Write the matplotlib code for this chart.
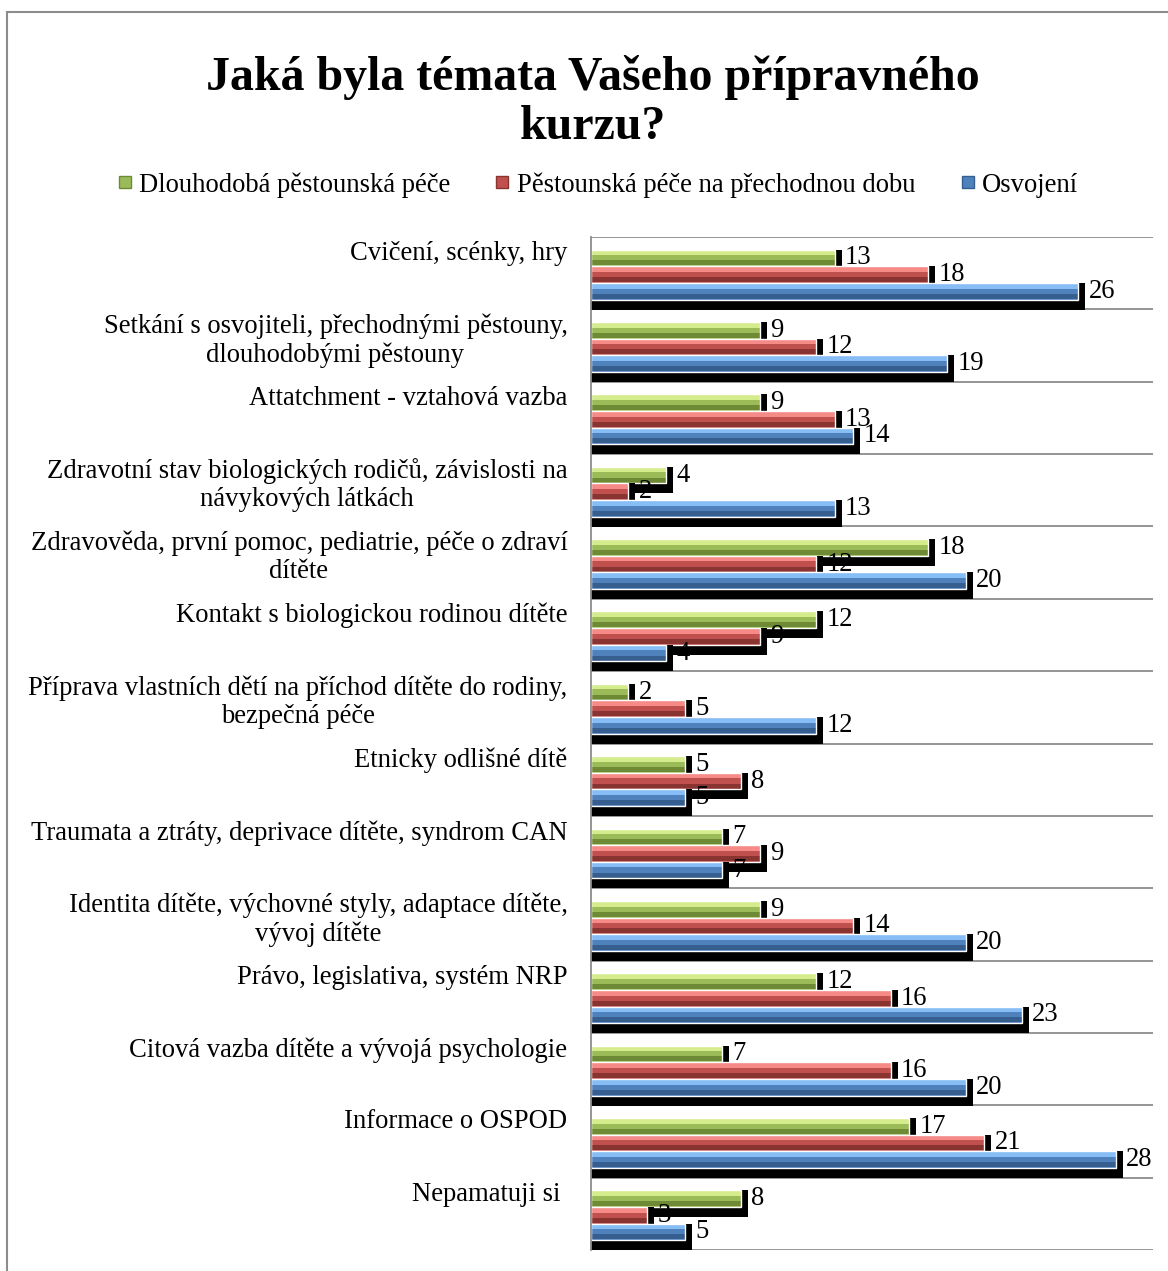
import matplotlib
matplotlib.use("Agg")
import matplotlib.pyplot as plt
from matplotlib.patches import Rectangle
from matplotlib.lines import Line2D

plt.rcParams["font.family"] = ["Liberation Serif", "DejaVu Serif"]

categories = [
    "Cvičení, scénky, hry",
    "Setkání s osvojiteli, přechodnými pěstouny,\ndlouhodobými pěstouny",
    "Attatchment - vztahová vazba",
    "Zdravotní stav biologických rodičů, závislosti na\nnávykových látkách",
    "Zdravověda, první pomoc, pediatrie, péče o zdraví\ndítěte",
    "Kontakt s biologickou rodinou dítěte",
    "Příprava vlastních dětí na příchod dítěte do rodiny,\nbezpečná péče",
    "Etnicky odlišné dítě",
    "Traumata a ztráty, deprivace dítěte, syndrom CAN",
    "Identita dítěte, výchovné styly, adaptace dítěte,\nvývoj dítěte",
    "Právo, legislativa, systém NRP",
    "Citová vazba dítěte a vývojá psychologie",
    "Informace o OSPOD",
    "Nepamatuji si ",
]
dlouhodoba = [13, 9, 9, 4, 18, 12, 2, 5, 7, 9, 12, 7, 17, 8]
prechodna = [18, 12, 13, 2, 12, 9, 5, 8, 9, 14, 16, 16, 21, 3]
osvojeni = [26, 19, 14, 13, 20, 4, 12, 5, 7, 20, 23, 20, 28, 5]

series_names = ["Dlouhodobá pěstounská péče", "Pěstounská péče na přechodnou dobu", "Osvojení"]
# base, highlight, dark
palette = [
    ("#9BBB59", "#D4EC8C", "#6E8A34"),
    ("#C0504D", "#F58A86", "#8A3431"),
    ("#4F81BD", "#86BDF5", "#365E8F"),
]

FS = 19.2
fig = plt.figure(figsize=(11.68, 12.71), dpi=100)
ax = fig.add_axes([591 / 1168, 1 - 1250 / 1271, 562 / 1168, (1250 - 237) / 1271])

n = len(categories)
xmax = 30
px_x = xmax / 562          # data units per pixel, x
px_y = n / (1250 - 237)    # data units per pixel, y
bar_h = 0.23
offsets = [0.175 + bar_h / 2, 0.175 + 1.5 * bar_h, 0.175 + 2.5 * bar_h]

# band gridlines
for b in range(n + 1):
    ax.axhline(b, color="#8c8c8c", lw=1.3, zorder=1)

for k, vals in enumerate([dlouhodoba, prechodna, osvojeni]):
    base, hi, dark = palette[k]
    ys = [i + offsets[k] for i in range(n)]
    z = 3 + k
    # black drop shadow: a bit wider and reaching lower than the bar
    ax.barh([y + 5 * px_y for y in ys], [v + 7 * px_x for v in vals], height=bar_h + 10 * px_y,
            color="black", lw=0, zorder=z)
    ax.barh(ys, vals, height=bar_h, color=base, lw=0, zorder=z + 0.1)
    # bevel look: light strip on top, darker strip at bottom
    ax.barh([y - bar_h * 0.30 for y in ys], vals, height=bar_h * 0.28, color=hi, lw=0, zorder=z + 0.2)
    ax.barh([y + bar_h * 0.30 for y in ys], vals, height=bar_h * 0.30, color=dark, lw=0, zorder=z + 0.2)
    ax.barh(ys, vals, height=bar_h, facecolor="none", edgecolor="white", lw=1.0, zorder=z + 0.3)
    for y, v in zip(ys, vals):
        ax.annotate(str(v), xy=(v, y), xytext=(7.5, 0), textcoords="offset points",
                    ha="left", va="center", fontsize=FS, zorder=10)

for i, lab in enumerate(categories):
    ax.annotate(lab, xy=(0, i), xycoords=("axes fraction", "data"), xytext=(-17, -3),
                textcoords="offset points", ha="right", va="top", multialignment="center",
                fontsize=FS, linespacing=1.17)

ax.set_xlim(0, xmax)
ax.set_ylim(n, 0)
ax.set_xticks([])
ax.set_yticks([])
for s in ["top", "right", "bottom"]:
    ax.spines[s].set_visible(False)
ax.spines["left"].set_color("#8c8c8c")
ax.spines["left"].set_linewidth(1.3)
ax.spines["left"].set_zorder(8)

fig.text(0.508, 1 - 102 / 1271, "Jaká byla témata Vašeho přípravného\nkurzu?", ha="center", va="center",
         fontsize=34.5, fontweight="bold", linespacing=1.15)

handles = [Line2D([], [], marker="s", ls="none", markersize=8.5, markerfacecolor=palette[k][0],
                  markeredgecolor=palette[k][2]) for k in range(3)]
fig.legend(handles, series_names, loc="center", bbox_to_anchor=(0.511, 1 - 185 / 1271), ncol=3,
           frameon=False, fontsize=FS, handlelength=0.7, handletextpad=0.2, columnspacing=1.6)

fig.patches.append(Rectangle((7 / 1168, -0.01), 1.1, 1 - 12 / 1271 + 0.01, transform=fig.transFigure,
                             fill=False, edgecolor="#8c8c8c", lw=1.5))

fig.savefig("out.png", dpi=100)
